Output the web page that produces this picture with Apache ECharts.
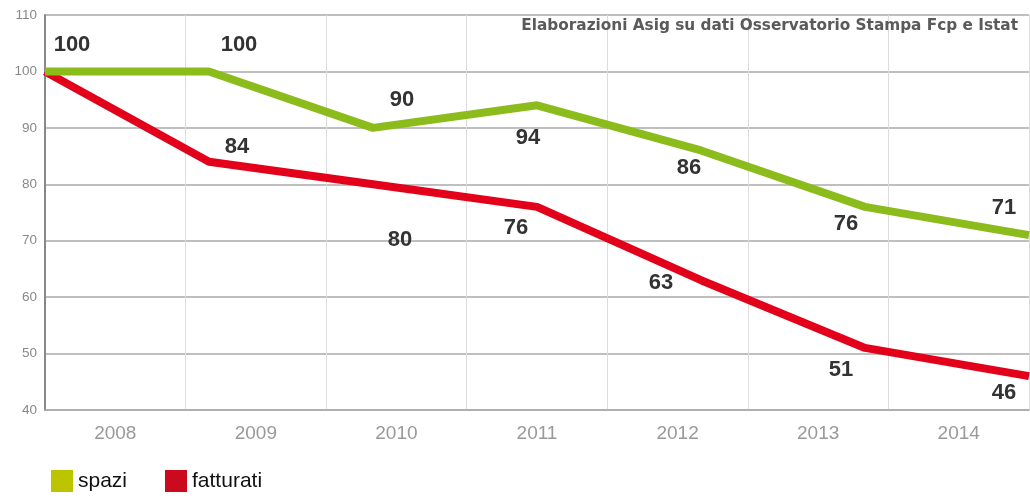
<!DOCTYPE html>
<html><head><meta charset="utf-8">
<script src="https://cdn.jsdelivr.net/npm/echarts@6/dist/echarts.min.js"></script>
<style>html,body{margin:0;padding:0;background:#fff}#c{width:1030px;height:498px}</style>
</head><body><div id="c"></div>
<script>
const years = ['2008','2009','2010','2011','2012','2013','2014'];
const spazi = [100,100,90,94,86,76,71];
const fatturati = [100,84,80,76,63,51,46];
const yTicks = [40,50,60,70,80,90,100,110];

const spaziOff = [[27,-26],[30,-26],[29,-28],[-9,33],[-12,18],[-19,17],[-25,-27]];
const fattOff = [null,[28,-15],[27,56],[-21,21],[-40,3],[-24,22],[-25,17]];

function build(vals, offs){
  return vals.map((v,i)=>({
    value:[i,v],
    label: offs[i] ? {show:true, position:'inside', offset:offs[i]} : {show:false}
  }));
}
const labelStyle = {show:true, fontFamily:'Liberation Sans, Arial, sans-serif', fontWeight:'bold', fontSize:22, color:'#333', formatter:p=>p.value[1]};

const chart = echarts.init(document.getElementById('c'));
chart.setOption({
  animation:false,
  grid:{left:45,right:1,top:15,bottom:88},
  legend:{
    left:46, bottom:1, itemWidth:22, itemHeight:22, itemGap:38, icon:'rect',
    textStyle:{fontFamily:'Liberation Sans, Arial, sans-serif', fontSize:21, color:'#111'},
    data:[{name:'spazi', itemStyle:{color:'#bcc400'}},{name:'fatturati', itemStyle:{color:'#cc0a1e'}}]
  },
  graphic:[{type:'text', right:12, top:19, z:100, style:{text:'Elaborazioni Asig su dati Osservatorio Stampa Fcp e Istat', fill:'#5a5a5a', font:'bold 15.3px DejaVu Sans, sans-serif'}}],
  xAxis:[
    {type:'category', data:years, boundaryGap:true,
     axisLine:{lineStyle:{color:'#aaa', width:1.5}}, axisTick:{show:false},
     axisLabel:{color:'#999', fontSize:19, margin:14, fontFamily:'Liberation Sans, Arial, sans-serif'},
     splitLine:{show:true, lineStyle:{color:'#ddd', width:1}}},
    {type:'value', min:0, max:6, show:false, splitLine:{show:false}}
  ],
  yAxis:{type:'value', min:40, max:110, interval:10,
    axisLine:{show:true, lineStyle:{color:'#888', width:2}}, axisTick:{show:false},
    axisLabel:{color:'#888', fontSize:13.5, margin:8, fontFamily:'Liberation Sans, Arial, sans-serif', formatter:v=>yTicks.includes(v)?String(v):''},
    splitLine:{lineStyle:{color:'#aaa', width:1.5}}},
  series:[
    {name:'spazi', type:'line', xAxisIndex:1, data:build(spazi,spaziOff), symbol:'circle', symbolSize:0, showSymbol:true,
     lineStyle:{color:'#8cbc1c', width:8}, itemStyle:{color:'#bcc400'}, label:labelStyle, z:3},
    {name:'fatturati', type:'line', xAxisIndex:1, data:build(fatturati,fattOff), symbol:'circle', symbolSize:0, showSymbol:true,
     lineStyle:{color:'#e2001a', width:8}, itemStyle:{color:'#cc0a1e'}, label:labelStyle, z:2}
  ]
});
</script></body></html>
